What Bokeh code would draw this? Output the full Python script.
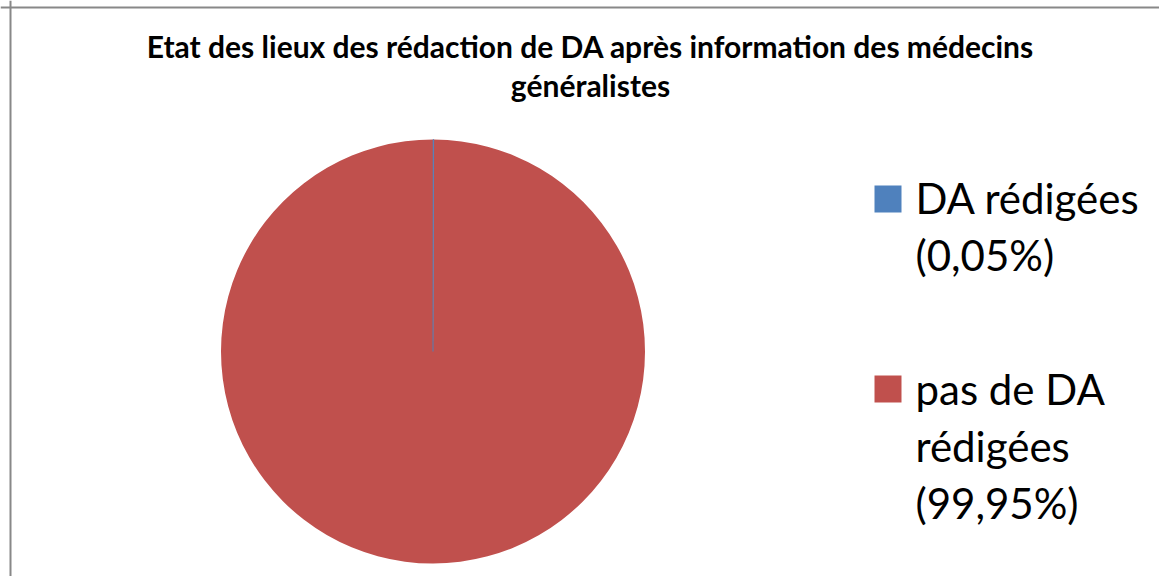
import numpy as np
from bokeh.plotting import figure
from bokeh.models import Range1d, Span, ColumnDataSource
from bokeh.core.properties import value
from bokeh.embed import file_html
from bokeh.resources import INLINE

# ---- data ----
categories = ["DA rédigées", "pas de DA rédigées"]
values = [0.05, 99.95]
colors = ["#4F81BD", "#C0504D"]
legend_lines = [["DA rédigées", "(0,05%)"], ["pas de DA", "rédigées", "(99,95%)"]]
title_lines = ["Etat des lieux des rédaction de DA après information des médecins",
               "généralistes"]

W, H = 1159, 576
p = figure(width=W, height=H, x_range=Range1d(0, W), y_range=Range1d(0, H),
           output_backend="svg", toolbar_location=None, min_border=0)
p.axis.visible = False
p.grid.visible = False
p.outline_line_color = None
p.background_fill_color = "white"

# border (left and top only visible in reference)
p.add_layout(Span(location=10, dimension="height", line_color="#888888", line_width=2))
p.add_layout(Span(location=H - 7, dimension="width", line_color="#888888", line_width=2))

# pie
vals = np.array(values, dtype=float)
frac = vals / vals.sum()
ends = np.pi / 2 - 2 * np.pi * np.cumsum(frac)
starts = np.concatenate([[np.pi / 2], ends[:-1]])
cx, cy, r = 432.5, 225, 212
src = ColumnDataSource(dict(start=starts, end=ends, color=colors, cat=categories))
p.wedge(x=cx, y=cy, radius=r, start_angle="start", end_angle="end", direction="clock",
        fill_color="color", line_color=None, source=src)
# tiny slice outline so it remains visible
p.wedge(x=cx, y=cy, radius=r, start_angle=starts[0], end_angle=ends[0], direction="clock",
        fill_color=colors[0], line_color=colors[0], line_width=0.8, line_alpha=0.7)

# title
ty = [531, 492]
p.text(x=[590] * 2, y=ty, text=title_lines, text_font=value("Lato"),
       text_font_style="bold", text_font_size="30px", text_align="center",
       text_baseline="alphabetic", text_color="black")

# legend
sq_x = 887.5
sq_y = [377.5, 187.5]
p.scatter(x=[sq_x] * 2, y=sq_y, marker="square", size=27, fill_color=colors, line_color=None)
first_base = [379, 188]
spacing = 57
lx, ly, lt = [], [], []
for k, lines in enumerate(legend_lines):
    for j, t in enumerate(lines):
        lx.append(915)
        ly.append(first_base[k] - j * spacing)
        lt.append(t)
p.text(x=lx, y=ly, text=lt, text_font=value("Lato"), text_font_size="42px",
       text_align="left", text_baseline="alphabetic", text_color="black")

open("out.html", "w").write(file_html(p, INLINE))
